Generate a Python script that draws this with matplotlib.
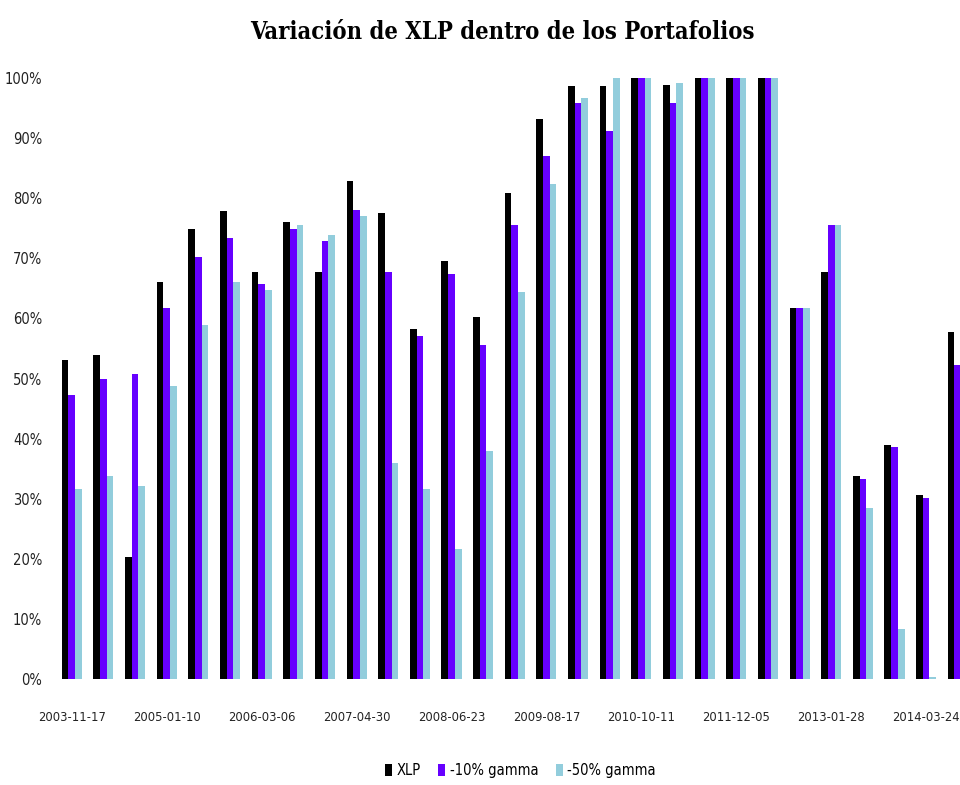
import numpy as np
import matplotlib.pyplot as plt
from matplotlib.ticker import PercentFormatter

# --- data (percent of portfolio in XLP) ---
dates = ["2003-11-17", "2004-04-05", "2004-08-23", "2005-01-10", "2005-05-30",
         "2005-10-17", "2006-03-06", "2006-07-24", "2006-12-11", "2007-04-30",
         "2007-09-17", "2008-02-04", "2008-06-23", "2008-11-10", "2009-03-30",
         "2009-08-17", "2010-01-04", "2010-05-24", "2010-10-11", "2011-02-28",
         "2011-07-18", "2011-12-05", "2012-04-23", "2012-09-10", "2013-01-28",
         "2013-06-17", "2013-11-04", "2014-03-24", "2014-08-11"]

xlp = [53.0, 53.9, 20.3, 66.1, 74.9, 77.8, 67.8, 76.0, 67.8, 82.9,
       77.6, 58.2, 69.6, 60.2, 80.8, 93.2, 98.7, 98.7, 100, 98.9,
       100, 100, 100, 61.8, 67.7, 33.8, 38.9, 30.7, 57.8]
gamma10 = [47.2, 49.9, 50.8, 61.8, 70.3, 73.3, 65.8, 74.9, 72.9, 78.0,
           67.8, 57.1, 67.4, 55.6, 75.5, 87.0, 95.9, 91.2, 100, 95.9,
           100, 100, 100, 61.8, 75.5, 33.3, 38.6, 30.2, 52.3]
gamma50 = [31.7, 33.8, 32.2, 48.8, 58.9, 66.0, 64.7, 75.5, 73.8, 77.1,
           36.0, 31.6, 21.6, 37.9, 64.4, 82.4, 96.7, 100, 100, 99.2,
           100, 100, 100, 61.8, 75.5, 28.4, 8.3, 0.3, 0.0]

series = [("XLP", xlp, "#000000"),
          ("-10% gamma", gamma10, "#6600ff"),
          ("-50% gamma", gamma50, "#92cddc")]

fig = plt.figure(figsize=(9.6, 7.85), dpi=100)
ax = fig.add_axes([0.0583, 0.135, 0.9417, 0.7656])

x = np.arange(len(dates))
w = 0.212
for k, (name, vals, col) in enumerate(series):
    ax.bar(x + (k - 1) * w, vals, width=w, color=col, label=name, linewidth=0)

ax.set_xlim(-0.5, 28.07)
ax.set_ylim(0, 100)
ax.set_yticks(np.arange(0, 101, 10))
ax.yaxis.set_major_formatter(PercentFormatter(decimals=0))
ax.set_xticks(x[::3])
ax.set_xticklabels(dates[::3])
ax.tick_params(axis="both", length=0, colors="#222222")
ax.tick_params(axis="x", pad=23, labelsize=9.3)
ax.tick_params(axis="y", pad=10, labelsize=10.5)
for lab in ax.get_xticklabels() + ax.get_yticklabels():
    lab.set_family("DejaVu Sans")
    lab.set_stretch("condensed")
for s in ax.spines.values():
    s.set_visible(False)

fig.text(0.523, 0.959, "Variación de XLP dentro de los Portafolios",
         ha="center", va="center", fontsize=17, fontweight="bold",
         family="DejaVu Serif", fontstretch="condensed")

fig.legend(loc="center", bbox_to_anchor=(0.542, 0.019), ncol=3, frameon=False,
           handlelength=0.5, handleheight=0.9, handletextpad=0.3, columnspacing=1.2,
           prop={"family": "DejaVu Sans", "stretch": "condensed", "size": 10.5})

fig.savefig("out.png", dpi=100)
